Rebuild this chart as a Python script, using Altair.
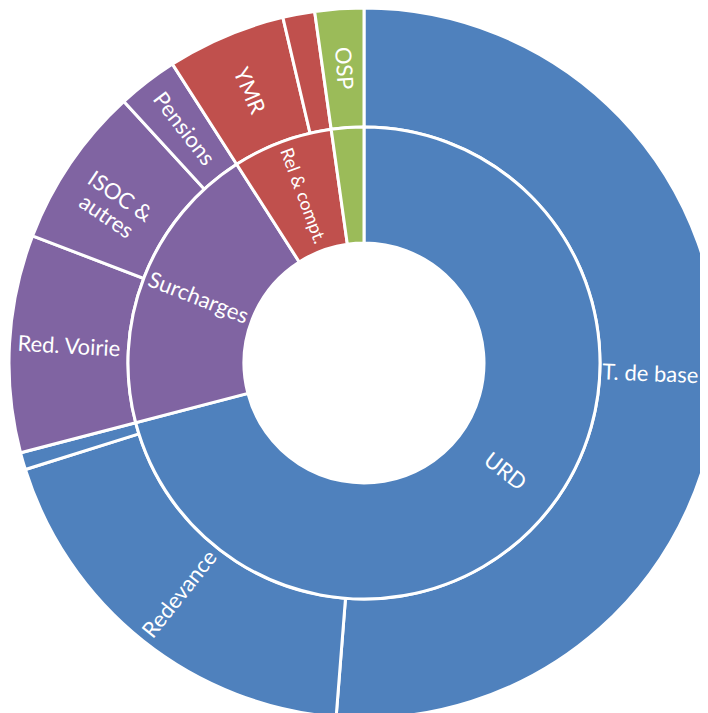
import altair as alt
import numpy as np
import pandas as pd

# Outer ring (leaves), clockwise from 12 o'clock
outer_labels = ["T. de base", "Redevance", "", "Red. Voirie", "ISOC &\nautres",
                "Pensions", "YMR", "", "OSP"]
outer_values = [51.25, 18.9, 0.78, 9.9, 7.35, 2.75, 5.4, 1.45, 2.22]
outer_groups = ["URD", "URD", "URD", "Surcharges", "Surcharges", "Surcharges",
                "Rel & compt.", "Rel & compt.", "OSP"]

# Inner ring (parents)
groups = ["URD", "Surcharges", "Rel & compt.", "OSP"]
inner_labels = ["URD", "Surcharges", "Rel & compt.", ""]
group_colors = ["#4F81BD", "#8064A2", "#C0504D", "#9BBB59"]


def add_geometry(df, total):
    df["end"] = df["value"].cumsum()
    df["start"] = df["end"] - df["value"]
    df["mid"] = (df["start"] + df["end"]) / 2
    deg = df["mid"] / total * 360
    df["ang"] = np.where(deg < 180, deg - 90, deg - 270) % 360
    return df


df_out = pd.DataFrame({"label": outer_labels, "value": outer_values, "group": outer_groups})
total = float(df_out["value"].sum())
df_out = add_geometry(df_out, total)

sums = df_out.groupby("group", sort=False)["value"].sum()
df_in = pd.DataFrame({"group": groups, "label": inner_labels,
                      "value": [float(sums[g]) for g in groups]})
df_in = add_geometry(df_in, total)

theta_scale = alt.Scale(domain=[0, total], range=[0, 2 * np.pi])
color_scale = alt.Scale(domain=groups, range=group_colors)
CX, CY = 356, 355
R_HOLE, R_MID, R_OUT = 120, 236, 355


def arcs(df, r_outer, r_inner):
    return alt.Chart(df).mark_arc(stroke="white", strokeWidth=3).encode(
        theta=alt.Theta("start:Q", scale=theta_scale, stack=None),
        theta2="end:Q",
        radius=alt.value(r_outer),
        radius2=alt.value(r_inner),
        x=alt.value(CX),
        y=alt.value(CY),
        color=alt.Color("group:N", scale=color_scale, legend=None),
    )


def labels(df, r, flt=None):
    base = alt.Chart(df)
    if flt is not None:
        base = base.transform_filter(flt)
    return base.mark_text(
        font="Lato", color="white", lineBreak="\n",
        align="center", baseline="middle"
    ).encode(
        theta=alt.Theta("mid:Q", scale=theta_scale, stack=None),
        radius=alt.value(r),
        x=alt.value(CX),
        y=alt.value(CY),
        text="label:N",
        angle=alt.Angle("ang:Q", scale=None),
        size=alt.condition(alt.datum.label == "Rel & compt.", alt.value(18), alt.value(22)),
    )


r_outer_lbl = (R_OUT + R_MID) / 2
chart = alt.layer(
    arcs(df_out, R_OUT, R_MID),
    arcs(df_in, R_MID, R_HOLE),
    labels(df_out, r_outer_lbl, alt.datum.label != "T. de base"),
    labels(df_out, r_outer_lbl - 9, alt.datum.label == "T. de base"),
    labels(df_in, (R_MID + R_HOLE) / 2),
).properties(
    width=692, height=705,
    autosize=alt.AutoSizeParams(type="none"),
    padding=0,
).configure_view(stroke=None)

chart.save("out.html", embed_options={"renderer": "svg", "actions": False})
